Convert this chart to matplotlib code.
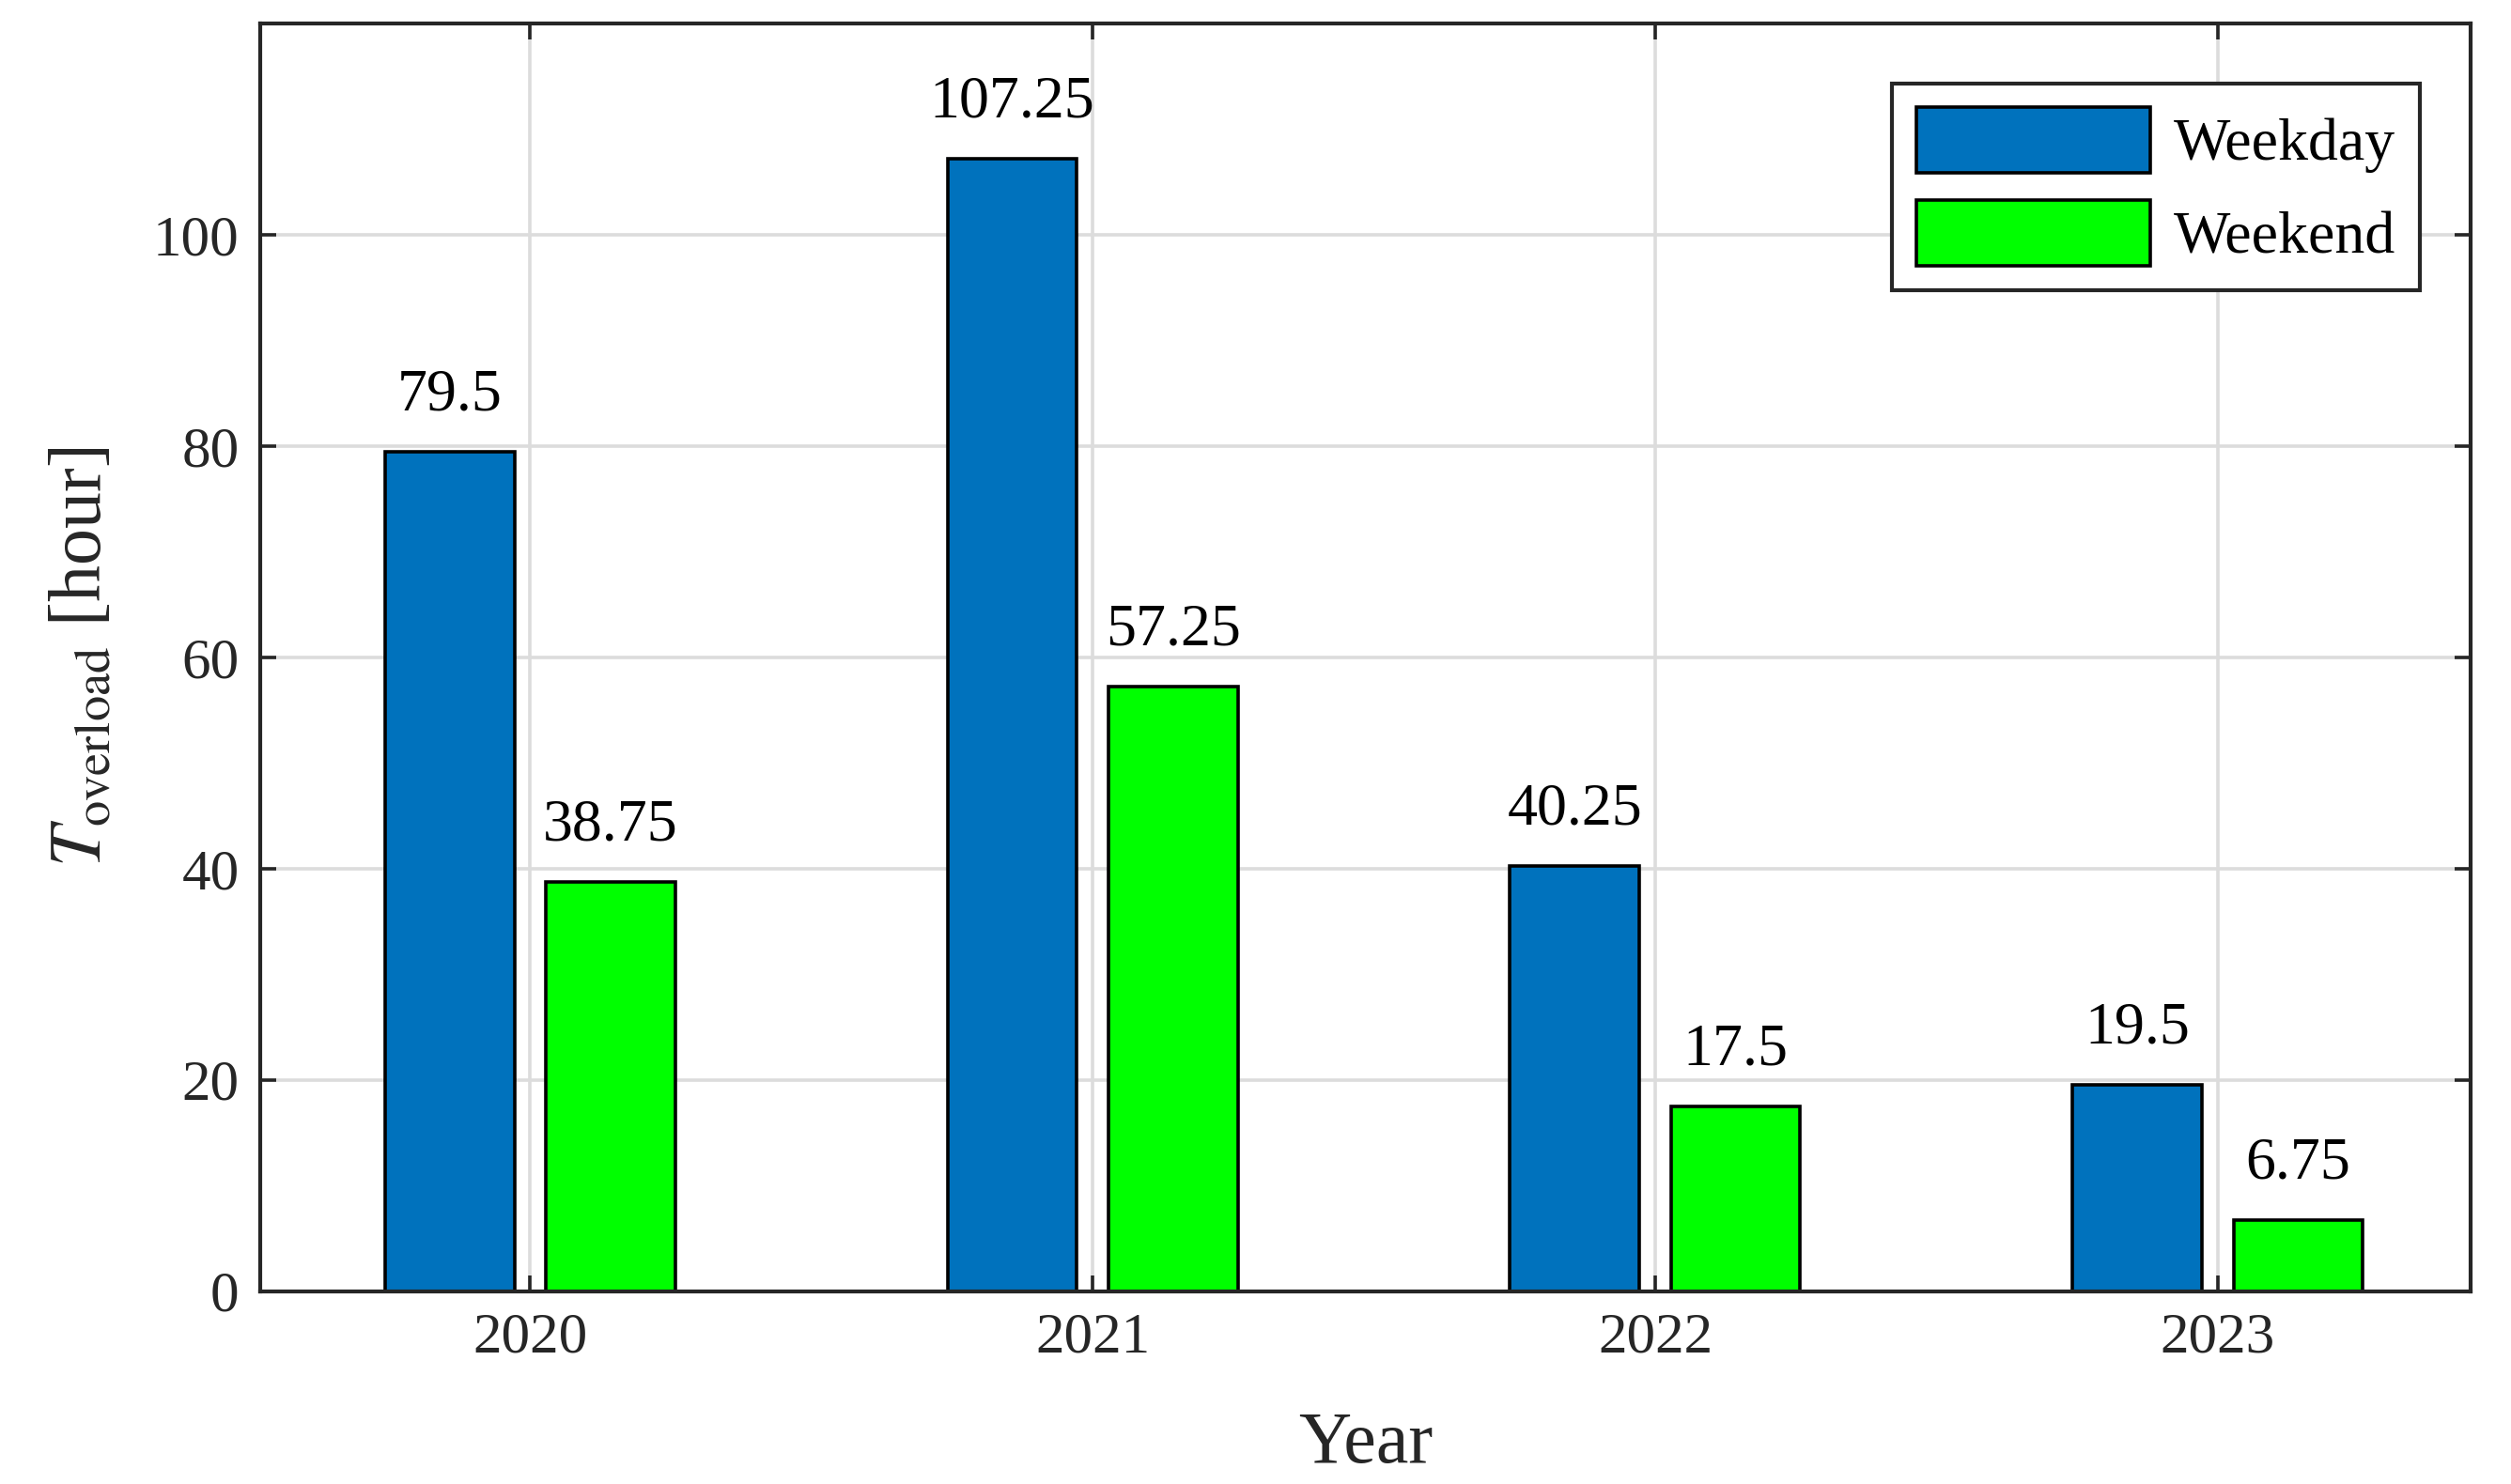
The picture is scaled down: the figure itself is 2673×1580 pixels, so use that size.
import numpy as np
import matplotlib
matplotlib.use('Agg')
import matplotlib.pyplot as plt

# --- Data ---
years = ['2020', '2021', '2022', '2023']
weekday = [79.5, 107.25, 40.25, 19.5]
weekend = [38.75, 57.25, 17.5, 6.75]

# --- Style ---
plt.rcParams['font.family'] = ['Liberation Serif', 'DejaVu Serif']
plt.rcParams['mathtext.fontset'] = 'stix'

fig = plt.figure(figsize=(13.365, 7.9), dpi=200)
ax = fig.add_axes([0.1036, 0.130, 0.8804, 0.854])

x = np.arange(len(years))
w = 0.23
off = 0.143

b1 = ax.bar(x - off, weekday, w, color='#0072BD', edgecolor='black', linewidth=1.3,
            label='Weekday', zorder=3)
b2 = ax.bar(x + off, weekend, w, color='#00FF00', edgecolor='black', linewidth=1.3,
            label='Weekend', zorder=3)

# value labels above the bars
for bars in (b1, b2):
    ax.bar_label(bars, labels=[f'{v:g}' for v in bars.datavalues], padding=11,
                 fontsize=23, color='black')

ax.set_xlim(-0.48, 3.45)
ax.set_ylim(0, 120)
ax.set_xticks(x)
ax.set_xticklabels(years)
ax.set_yticks(np.arange(0, 101, 20))

ax.grid(True, color='#dcdcdc', linewidth=1.3, zorder=0)
ax.set_axisbelow(True)

ax.tick_params(direction='in', length=6, width=1.3, colors='#262626', labelsize=22,
               top=True, right=True, pad=8)
for s in ax.spines.values():
    s.set_linewidth(1.5)
    s.set_color('#262626')
    s.set_zorder(5)

ax.set_xlabel('Year', fontsize=28, color='#262626', labelpad=18)
ax.set_ylabel(r'$T_{\mathrm{overload}}$ [hour]', fontsize=28, color='#262626', labelpad=14)

leg = ax.legend(loc='upper right', bbox_to_anchor=(0.977, 0.953), borderaxespad=0,
                fontsize=23, handlelength=3.9, handleheight=1.3, handletextpad=0.4,
                borderpad=0.4, labelspacing=0.45, fancybox=False, framealpha=1)
leg.get_frame().set_edgecolor('#262626')
leg.get_frame().set_linewidth(1.5)

fig.savefig('out.png', dpi=200)
